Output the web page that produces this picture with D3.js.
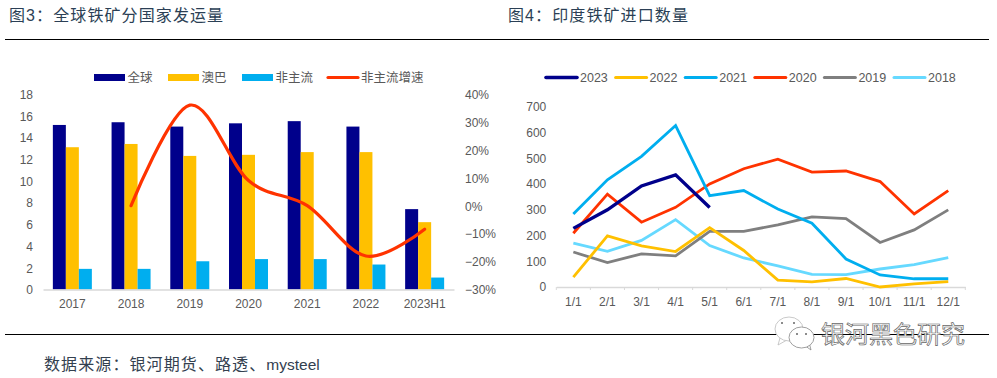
<!DOCTYPE html>
<html>
<head>
<meta charset="utf-8">
<script src="https://cdn.jsdelivr.net/npm/d3@7/dist/d3.min.js"></script>
<style>
html, body { margin: 0; padding: 0; background: #fff; }
svg { display: block; }
text { font-family: "Liberation Sans", "Noto Sans CJK SC", sans-serif; }
.title { font-family: "Liberation Sans", "Noto Sans CJK SC", sans-serif; font-size: 16px; letter-spacing: 1.1px; fill: #2b3f55; }
.axis text { font-size: 12px; fill: #595959; }
.legend text { font-size: 12.5px; fill: #595959; }
</style>
</head>
<body>
<div id="chart"></div>
<script>
var years = ["2017", "2018", "2019", "2020", "2021", "2022", "2023H1"];
var global_ship = [15.15, 15.4, 15.0, 15.3, 15.5, 15.0, 7.4];
var aus_bra = [13.1, 13.4, 12.3, 12.4, 12.65, 12.65, 6.2];
var non_main = [1.9, 1.9, 2.6, 2.8, 2.8, 2.3, 1.1];
var non_main_growth = [null, 0, 0.36, 0.09, 0, -0.18, -0.084];

var months = ["1/1", "2/1", "3/1", "4/1", "5/1", "6/1", "7/1", "8/1", "9/1", "10/1", "11/1", "12/1"];
var india_2023 = [228, 300, 393, 436, 309];
var india_2022 = [38, 199, 160, 138, 231, 142, 27, 20, 33, 0, 12, 21];
var india_2021 = [284, 417, 508, 628, 355, 375, 303, 248, 109, 47, 32, 32];
var india_2020 = [209, 361, 252, 310, 401, 460, 497, 447, 451, 410, 284, 375];
var india_2019 = [136, 95, 129, 121, 216, 216, 242, 273, 266, 173, 222, 300];
var india_2018 = [171, 139, 181, 262, 161, 113, 82, 49, 48, 70, 87, 114];

var bar_series = [
    { name: "全球", color: "#00008b", values: global_ship },
    { name: "澳巴", color: "#ffc000", values: aus_bra },
    { name: "非主流", color: "#00aeef", values: non_main }
];
var line_series = [
    { name: "2023", color: "#00008b", width: 3.4, values: india_2023 },
    { name: "2022", color: "#ffc000", width: 2.8, values: india_2022 },
    { name: "2021", color: "#00aeef", width: 2.8, values: india_2021 },
    { name: "2020", color: "#ff3300", width: 2.8, values: india_2020 },
    { name: "2019", color: "#7f7f7f", width: 2.8, values: india_2019 },
    { name: "2018", color: "#66d9ff", width: 2.8, values: india_2018 }
];

var svg = d3.select("#chart").append("svg")
    .attr("width", 997)
    .attr("height", 378);

// page furniture
svg.append("text").attr("class", "title").attr("x", 9).attr("y", 21).text("图3：全球铁矿分国家发运量");
svg.append("text").attr("class", "title").attr("x", 508).attr("y", 21).text("图4：印度铁矿进口数量");
[39.5, 334.5].forEach(function (y) {
    svg.append("line").attr("x1", 5).attr("x2", 989).attr("y1", y).attr("y2", y)
        .attr("stroke", "#000").attr("stroke-width", 1);
});
var source = svg.append("text").attr("class", "title").attr("x", 44).attr("y", 370)
    .style("fill", "#33404f");
source.append("tspan").text("数据来源：银河期货、路透、");
source.append("tspan").style("letter-spacing", "0px").style("font-size", "15.5px").text("mysteel");

// left chart
var x_left = d3.scaleBand().domain(years).range([43, 454]);
var x_bars = d3.scaleBand().domain(bar_series.map(function (d) { return d.name; })).range([0, 39]);
var y_left = d3.scaleLinear().domain([0, 18]).range([289.5, 94]);
var y_pct = d3.scaleLinear().domain([-0.3, 0.4]).range([289.5, 94]);
var bar_offset = (x_left.bandwidth() - 39) / 2;

var left_axis = svg.append("g").attr("class", "axis")
    .attr("transform", "translate(43,0.5)")
    .call(d3.axisLeft(y_left).tickValues(d3.range(0, 19, 2)).tickSize(0).tickPadding(10));
left_axis.select(".domain").remove();

var right_axis = svg.append("g").attr("class", "axis")
    .attr("transform", "translate(454,0.5)")
    .call(d3.axisRight(y_pct).tickValues(d3.range(-0.3, 0.41, 0.1)).tickFormat(d3.format(".0%")).tickSize(0).tickPadding(11));
right_axis.select(".domain").remove();

bar_series.forEach(function (s) {
    svg.append("g").selectAll("rect")
        .data(s.values)
        .enter()
        .append("rect")
        .attr("x", function (d, i) { return x_left(years[i]) + bar_offset + x_bars(s.name); })
        .attr("y", function (d) { return y_left(d); })
        .attr("width", x_bars.bandwidth())
        .attr("height", function (d) { return y_left(0) - y_left(d); })
        .attr("fill", s.color);
});

var bottom_left = svg.append("g").attr("class", "axis")
    .attr("transform", "translate(0,289.5)")
    .call(d3.axisBottom(x_left).tickSize(0).tickPadding(10));
bottom_left.select(".domain").attr("stroke", "#d9d9d9").attr("stroke-width", 1.5);

var growth_line = d3.line()
    .defined(function (d) { return d !== null; })
    .x(function (d, i) { return x_left(years[i]) + x_left.bandwidth() / 2; })
    .y(function (d) { return y_pct(d); })
    .curve(d3.curveCatmullRom.alpha(0));

svg.append("path")
    .datum(non_main_growth)
    .attr("d", growth_line)
    .attr("fill", "none")
    .attr("stroke", "#ff3300")
    .attr("stroke-width", 3.2)
    .attr("stroke-linecap", "round");

// left legend
var legend_left = svg.append("g").attr("class", "legend");
var legend_left_x = [94, 168, 242];
bar_series.forEach(function (s, i) {
    legend_left.append("rect").attr("x", legend_left_x[i]).attr("y", 74).attr("width", 31).attr("height", 7).attr("fill", s.color);
    legend_left.append("text").attr("x", legend_left_x[i] + 33.5).attr("y", 82).text(s.name);
});
legend_left.append("line").attr("x1", 328).attr("x2", 358).attr("y1", 77.5).attr("y2", 77.5)
    .attr("stroke", "#ff3300").attr("stroke-width", 3.2).attr("stroke-linecap", "round");
legend_left.append("text").attr("x", 361).attr("y", 82).text("非主流增速");

// right chart
var x_right = d3.scaleBand().domain(months).range([556.3, 965.3]);
var x_ticks = d3.scaleLinear().domain([0, 12]).range([556.3, 965.3]);
var y_right = d3.scaleLinear().domain([0, 700]).range([287, 107]);

var axis_y = svg.append("g").attr("class", "axis")
    .attr("transform", "translate(556.3,0)")
    .call(d3.axisLeft(y_right).ticks(7).tickSize(0).tickPadding(10));
axis_y.select(".domain").remove();

var axis_x = svg.append("g").attr("class", "axis")
    .attr("transform", "translate(0,287)")
    .call(d3.axisBottom(x_right).tickSize(0).tickPadding(10));
axis_x.select(".domain").attr("stroke", "#d9d9d9").attr("stroke-width", 1.5);

svg.append("g").attr("transform", "translate(0,287)")
    .selectAll("line")
    .data(d3.range(0, 13))
    .enter()
    .append("line")
    .attr("x1", function (d) { return x_ticks(d); })
    .attr("x2", function (d) { return x_ticks(d); })
    .attr("y1", 0)
    .attr("y2", 3)
    .attr("stroke", "#d9d9d9");

var india_line = d3.line()
    .x(function (d, i) { return x_right(months[i]) + x_right.bandwidth() / 2; })
    .y(function (d) { return y_right(d); });

// later years sit under earlier ones the way the chart stacks them
line_series.slice().reverse().forEach(function (s) {
    svg.append("path")
        .attr("d", india_line(s.values))
        .attr("fill", "none")
        .attr("stroke", s.color)
        .attr("stroke-width", s.width)
        .attr("stroke-linejoin", "miter");
});

var legend_right = svg.append("g").attr("class", "legend");
line_series.forEach(function (s, i) {
    var lx = 546 + i * 69.6;
    legend_right.append("line").attr("x1", lx).attr("x2", lx + 31).attr("y1", 77.5).attr("y2", 77.5)
        .attr("stroke", s.color).attr("stroke-width", i == 0 ? 3.6 : 3).attr("stroke-linecap", "round");
    legend_right.append("text").attr("x", lx + 34).attr("y", 82).text(s.name);
});

// watermark
var mark = svg.append("g");
mark.append("path").attr("d", "M780 338 L778 345 L787 340 Z").attr("fill", "#fff").attr("stroke", "#bbb").attr("stroke-width", 0.8);
mark.append("ellipse").attr("cx", 789).attr("cy", 329).attr("rx", 14).attr("ry", 12)
    .attr("fill", "#fff").attr("stroke", "#bbb").attr("stroke-width", 0.8);
mark.append("path").attr("d", "M804 345 L811 350 L809 342 Z").attr("fill", "#fff").attr("stroke", "#888").attr("stroke-width", 0.8);
mark.append("ellipse").attr("cx", 801.5).attr("cy", 337.5).attr("rx", 12.5).attr("ry", 10.5)
    .attr("fill", "#fff").attr("stroke", "#888").attr("stroke-width", 0.8);
[[782, 323], [794, 323], [797, 334], [806, 334]].forEach(function (p) {
    mark.append("circle").attr("cx", p[0]).attr("cy", p[1]).attr("r", 1).attr("fill", "#666");
});
mark.append("text").attr("x", 821).attr("y", 343)
    .style("font-family", "'Noto Sans CJK SC', sans-serif")
    .style("font-size", "24px")
    .attr("fill", "#fff")
    .attr("stroke", "#666")
    .attr("stroke-width", 0.7)
    .text("银河黑色研究");
</script>
</body>
</html>
